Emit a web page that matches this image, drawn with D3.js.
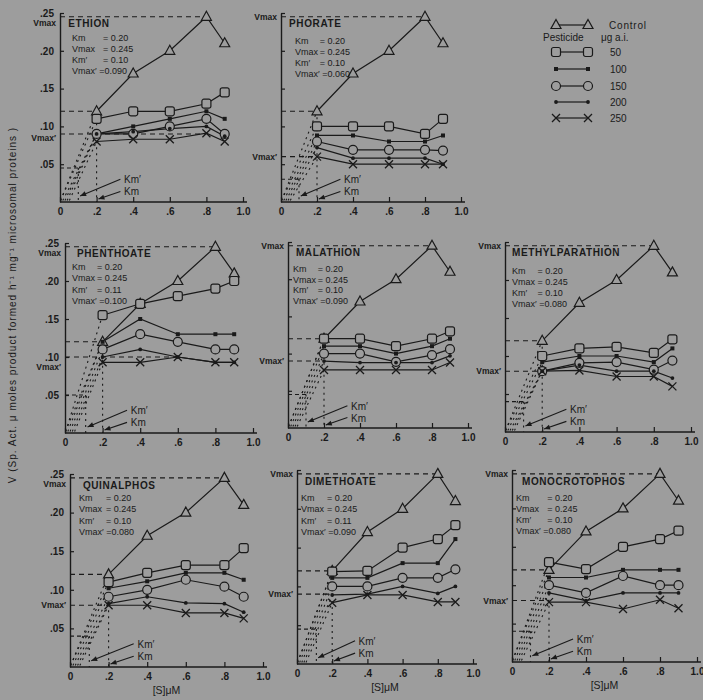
<!DOCTYPE html>
<html>
<head>
<meta charset="utf-8">
<script src="https://cdn.jsdelivr.net/npm/d3@7"></script>
<style>
  body { margin: 0; background: #9d9d9d; }
  svg { display: block; font-family: "Liberation Sans", Arial, sans-serif; }
</style>
</head>
<body>
<div id="chart"></div>
<script>
// substrate concentrations [S] (uM)
var subst = [0.2, 0.4, 0.6, 0.8, 0.9];
var control = [0.12, 0.17, 0.20, 0.245, 0.21];
var doses = ["50", "100", "150", "200", "250"];
var names = ["ETHION", "PHORATE", "PHENTHOATE", "MALATHION", "METHYLPARATHION",
             "QUINALPHOS", "DIMETHOATE", "MONOCROTOPHOS"];
var kmText = ["0.20", "0.20", "0.20", "0.20", "0.20", "0.20", "0.20", "0.20"];
var vmaxText = ["0.245", "0.245", "0.245", "0.245", "0.245", "0.245", "0.245", "0.245"];
var kmPrime = [0.10, 0.10, 0.11, 0.10, 0.10, 0.10, 0.11, 0.10];
var vmaxPrime = [0.090, 0.060, 0.100, 0.090, 0.080, 0.080, 0.090, 0.080];
var xTicks = [0, 0.2, 0.4, 0.6, 0.8, 1.0];
var yTicks = [0.05, 0.10, 0.15, 0.20, 0.25];

// rows: 50, 100, 150, 200, 250 ug a.i.
var ethion = [
  [0.11, 0.12, 0.12, 0.13, 0.145],
  [0.09, 0.10, 0.11, 0.12, 0.11],
  [0.09, 0.09, 0.10, 0.11, 0.09],
  [0.09, 0.093, 0.097, 0.10, 0.087],
  [0.08, 0.083, 0.083, 0.091, 0.08]
];
var phorate = [
  [0.10, 0.10, 0.10, 0.09, 0.11],
  [0.088, 0.088, 0.08, 0.08, 0.088],
  [0.08, 0.069, 0.069, 0.069, 0.068],
  [0.072, 0.058, 0.058, 0.058, 0.05],
  [0.06, 0.05, 0.05, 0.05, 0.05]
];
var phenthoate = [
  [0.155, 0.17, 0.18, 0.19, 0.20],
  [0.12, 0.15, 0.13, 0.13, 0.13],
  [0.11, 0.13, 0.12, 0.11, 0.11],
  [0.10, 0.11, 0.10, 0.093, 0.093],
  [0.093, 0.093, 0.10, 0.093, 0.093]
];
var malathion = [
  [0.12, 0.12, 0.11, 0.12, 0.13],
  [0.11, 0.11, 0.10, 0.11, 0.12],
  [0.10, 0.10, 0.089, 0.098, 0.106],
  [0.09, 0.088, 0.088, 0.088, 0.097],
  [0.078, 0.078, 0.078, 0.078, 0.088]
];
var methylparathion = [
  [0.10, 0.11, 0.112, 0.104, 0.122],
  [0.092, 0.10, 0.10, 0.092, 0.11],
  [0.08, 0.091, 0.092, 0.082, 0.094],
  [0.08, 0.088, 0.08, 0.08, 0.071],
  [0.08, 0.081, 0.073, 0.073, 0.06]
];
var quinalphos = [
  [0.11, 0.122, 0.132, 0.132, 0.154],
  [0.102, 0.111, 0.122, 0.122, 0.113],
  [0.091, 0.10, 0.113, 0.104, 0.091],
  [0.082, 0.091, 0.083, 0.082, 0.071],
  [0.08, 0.08, 0.07, 0.07, 0.063]
];
var dimethoate = [
  [0.119, 0.12, 0.15, 0.161, 0.179],
  [0.111, 0.111, 0.13, 0.13, 0.161],
  [0.10, 0.10, 0.111, 0.111, 0.122],
  [0.089, 0.09, 0.10, 0.091, 0.10],
  [0.079, 0.089, 0.089, 0.08, 0.08]
];
var monocrotophos = [
  [0.13, 0.121, 0.15, 0.16, 0.171],
  [0.11, 0.11, 0.12, 0.12, 0.12],
  [0.10, 0.09, 0.112, 0.10, 0.10],
  [0.09, 0.08, 0.09, 0.09, 0.09],
  [0.078, 0.078, 0.069, 0.081, 0.07]
];
var panelData = [ethion, phorate, phenthoate, malathion, methylparathion,
                 quinalphos, dimethoate, monocrotophos];

// layout of each panel (pixels) and text offsets (data units)
var layout = [
  {ox: 60,  w: 183, oy: 202, top: 13,  left: true,  tx: 0.045, kx: 0.066, vx: 0.235, ky: 0.213, vdash: 0.8, vpOff: 7},
  {ox: 281, w: 180, oy: 202, top: 13,  left: false, tx: 0.045, kx: 0.078, vx: 0.215, ky: 0.209, vdash: 0.2, vpOff: 3},
  {ox: 65,  w: 188, oy: 433, top: 243, left: true,  tx: 0.064, kx: 0.037, vx: 0.17,  ky: 0.214, vdash: 0.6, vpOff: 13},
  {ox: 288, w: 180, oy: 428, top: 242, left: false, tx: 0.044, kx: 0.028, vx: 0.165, ky: 0.210, vdash: 0.2, vpOff: 3},
  {ox: 505, w: 186, oy: 432, top: 242, left: false, tx: 0.038, kx: 0.038, vx: 0.175, ky: 0.208, vdash: 0.2, vpOff: 3},
  {ox: 70,  w: 193, oy: 667, top: 474, left: true,  tx: 0.067, kx: 0.047, vx: 0.187, ky: 0.215, vdash: 0.2, vpOff: 3},
  {ox: 297, w: 176, oy: 664, top: 470, left: false, tx: 0.045, kx: 0.023, vx: 0.17,  ky: 0.210, vdash: 0.2, vpOff: 3},
  {ox: 512, w: 185, oy: 662, top: 470, left: false, tx: 0.054, kx: 0.022, vx: 0.19,  ky: 0.210, vdash: 0.2, vpOff: 3}
];

var ink = "#1a1a1a", paper = "#9d9d9d";
var W = 703, H = 700;

var svg = d3.select("#chart").append("svg")
  .attr("width", W).attr("height", H);
svg.append("rect").attr("width", W).attr("height", H).attr("fill", paper);

function drawMarker(g, type, cx, cy) {
  var m;
  if (type === "control") {
    m = g.append("path").attr("d", "M0,-5.5L5,3.5L-5,3.5Z")
      .attr("fill", paper).attr("stroke", ink).attr("stroke-width", 1.2);
  } else if (type === "50") {
    m = g.append("rect").attr("x", -4.5).attr("y", -4.5).attr("width", 9).attr("height", 9)
      .attr("rx", 2).attr("fill", paper).attr("stroke", ink).attr("stroke-width", 1.2);
  } else if (type === "100") {
    m = g.append("rect").attr("x", -2).attr("y", -2).attr("width", 4).attr("height", 4)
      .attr("fill", ink);
  } else if (type === "150") {
    m = g.append("circle").attr("r", 4.5)
      .attr("fill", paper).attr("stroke", ink).attr("stroke-width", 1.2);
  } else if (type === "200") {
    m = g.append("circle").attr("r", 1.9).attr("fill", ink);
  } else {
    m = g.append("path").attr("d", "M-4,-4L4,4M-4,4L4,-4")
      .attr("fill", "none").attr("stroke", ink).attr("stroke-width", 1.3);
  }
  m.attr("transform", "translate(" + cx + "," + cy + ")");
}

var fmtX = function(d) {
  if (d === 0) return "0";
  if (d === 1) return "1.0";
  return d3.format(".1f")(d).replace(/^0/, "");
};
var fmtY = function(d) { return d3.format(".2f")(d).replace(/^0/, ""); };

function drawPanel(i) {
  var L = layout[i];
  var data = panelData[i];
  var x = d3.scaleLinear().domain([0, 1]).range([L.ox, L.ox + L.w]);
  var y = d3.scaleLinear().domain([0, 0.25]).range([L.oy, L.top]);
  var g = svg.append("g");

  // axes
  var xa = g.append("g").attr("transform", "translate(0," + L.oy + ")")
    .call(d3.axisBottom(x).tickValues(xTicks).tickSize(-5).tickSizeOuter(0)
      .tickPadding(6).tickFormat(fmtX));
  var ya = g.append("g").attr("transform", "translate(" + L.ox + ",0)")
    .call(d3.axisLeft(y).tickValues(yTicks).tickSize(-4).tickSizeOuter(0)
      .tickPadding(6).tickFormat(L.left ? fmtY : ""));
  [xa, ya].forEach(function(a) {
    a.select(".domain").attr("stroke", ink).attr("stroke-width", 1.4);
    a.selectAll(".tick line").attr("stroke", ink).attr("stroke-width", 1.2);
    a.selectAll(".tick text").attr("fill", ink).attr("font-size", 10)
      .attr("font-weight", "bold");
  });
  xa.select(".domain").attr("d", "M" + L.ox + ",0H" + (x(1) + 4));

  // reference dashed / dotted lines
  var vmax = d3.max(control);
  var half = control[0];
  var vp = vmaxPrime[i];
  var kp = kmPrime[i];
  var dash = function(x1, y1, x2, y2, pat) {
    g.append("line").attr("x1", x(x1)).attr("y1", y(y1)).attr("x2", x(x2)).attr("y2", y(y2))
      .attr("stroke", ink).attr("stroke-width", 1.1).attr("stroke-dasharray", pat);
  };
  dash(0, vmax, subst[3], vmax, "5,4");
  dash(0, half, 0.2, half, "5,4");
  dash(0, vp, L.vdash, vp, "5,4");
  dash(0, vp / 2, kp, vp / 2, "4,3");
  dash(0.2, half, 0.2, 0, "2,4");
  dash(kp, vp / 2, kp, 0, "2,4");
  // initial-rate dotted lines from origin
  dash(0.003, 0.002, 0.2, control[0], "2,4");
  data.forEach(function(s, k) {
    dash(0.003 + k * 0.012, 0.002, 0.2, s[0], "2,4");
  });

  // Km / Km' arrows
  var arrow = function(x1, y1, x2, y2) {
    g.append("line").attr("x1", x(x1)).attr("y1", y(y1)).attr("x2", x(x2)).attr("y2", y(y2))
      .attr("stroke", ink).attr("stroke-width", 1.1);
    var ang = Math.atan2(y(y2) - y(y1), x(x2) - x(x1)) * 180 / Math.PI;
    g.append("path").attr("d", "M0,0L-6,-2.5L-6,2.5Z").attr("fill", ink)
      .attr("transform", "translate(" + x(x2) + "," + y(y2) + ") rotate(" + ang + ")");
  };
  arrow(0.33, 0.03, kp + 0.01, 0.008);
  arrow(0.33, 0.014, 0.21, 0.004);
  g.append("text").attr("x", x(0.35)).attr("y", y(0.03) + 4).text("Km\u2032")
    .attr("font-size", 10).attr("fill", ink);
  g.append("text").attr("x", x(0.35)).attr("y", y(0.014) + 4).text("Km")
    .attr("font-size", 10).attr("fill", ink);

  // series lines
  var line = d3.line().x(function(d, j) { return x(subst[j]); }).y(function(d) { return y(d); });
  var all = [control].concat(data);
  var types = ["control"].concat(doses);
  all.forEach(function(s) {
    g.append("path").datum(s).attr("d", line).attr("fill", "none")
      .attr("stroke", ink).attr("stroke-width", 1.2);
  });
  all.forEach(function(s, k) {
    s.forEach(function(v, j) { drawMarker(g, types[k], x(subst[j]), y(v)); });
  });

  // Vmax labels on the axis
  var lab = g.append("g").attr("font-size", 8.5).attr("font-weight", "bold").attr("fill", ink);
  if (L.left) {
    lab.append("text").attr("x", L.ox - 4).attr("y", y(0.233)).attr("text-anchor", "end").text("Vmax");
    lab.append("text").attr("x", L.ox - 4).attr("y", y(vp) + L.vpOff).attr("text-anchor", "end").text("Vmax\u2032");
  } else {
    lab.append("text").attr("x", L.ox - 4).attr("y", y(vmax) + 3).attr("text-anchor", "end").text("Vmax");
    lab.append("text").attr("x", L.ox - 4).attr("y", y(vp) + L.vpOff).attr("text-anchor", "end").text("Vmax\u2032");
  }

  // panel title and constants
  g.append("text").attr("x", x(L.tx)).attr("y", y(0.231)).text(names[i])
    .attr("font-size", 10).attr("font-weight", "bold").attr("letter-spacing", 0.6).attr("fill", ink);
  var rows = [["Km", "= " + kmText[i]], ["Vmax", "= " + vmaxText[i]],
              ["Km\u2032", "= " + d3.format(".2f")(kp)]];
  rows.forEach(function(r, k) {
    var yy = y(L.ky - k * 0.0146);
    g.append("text").attr("x", x(L.kx)).attr("y", yy).text(r[0])
      .attr("font-size", 9).attr("fill", ink);
    g.append("text").attr("x", x(L.vx)).attr("y", yy).text(r[1])
      .attr("font-size", 9).attr("fill", ink);
  });
  // last row written in one run, as in the figure
  g.append("text").attr("x", x(L.kx)).attr("y", y(L.ky - 3 * 0.0146))
    .text("Vmax\u2032 =" + d3.format(".3f")(vp))
    .attr("font-size", 9).attr("fill", ink);

  if (i >= 5) {
    g.append("text").attr("x", x(0.5)).attr("y", L.oy + 27).attr("text-anchor", "middle")
      .text("[S]\u03bcM").attr("font-size", 10.5).attr("fill", ink);
  }
}

for (var i = 0; i < names.length; i++) drawPanel(i);

// legend
var leg = svg.append("g").attr("fill", ink).attr("font-size", 10);
var legTypes = ["control"].concat(doses);
var legY = [25, 52, 69, 86, 102, 118];
legTypes.forEach(function(t, k) {
  var yy = legY[k];
  leg.append("line").attr("x1", 556).attr("x2", 588).attr("y1", yy).attr("y2", yy)
    .attr("stroke", ink).attr("stroke-width", 1.2);
  drawMarker(leg, t, 556, yy);
  drawMarker(leg, t, 588, yy);
  leg.append("text").attr("x", t === "control" ? 609 : 610).attr("y", yy + 4)
    .text(t === "control" ? "Control" : t).attr("letter-spacing", t === "control" ? 0.8 : 0);
});
leg.append("text").attr("x", 543).attr("y", 41).text("Pesticide");
leg.append("text").attr("x", 601).attr("y", 41).text("\u03bcg a.i.");

// y axis title
svg.append("text")
  .attr("transform", "translate(16,305) rotate(-90)")
  .attr("text-anchor", "middle")
  .attr("font-size", 10).attr("letter-spacing", 1).attr("fill", ink)
  .text("V (Sp. Act. \u03bc moles product formed h\u207b\u00b9 mg\u207b\u00b9 microsomal proteins )");
</script>
</body>
</html>
